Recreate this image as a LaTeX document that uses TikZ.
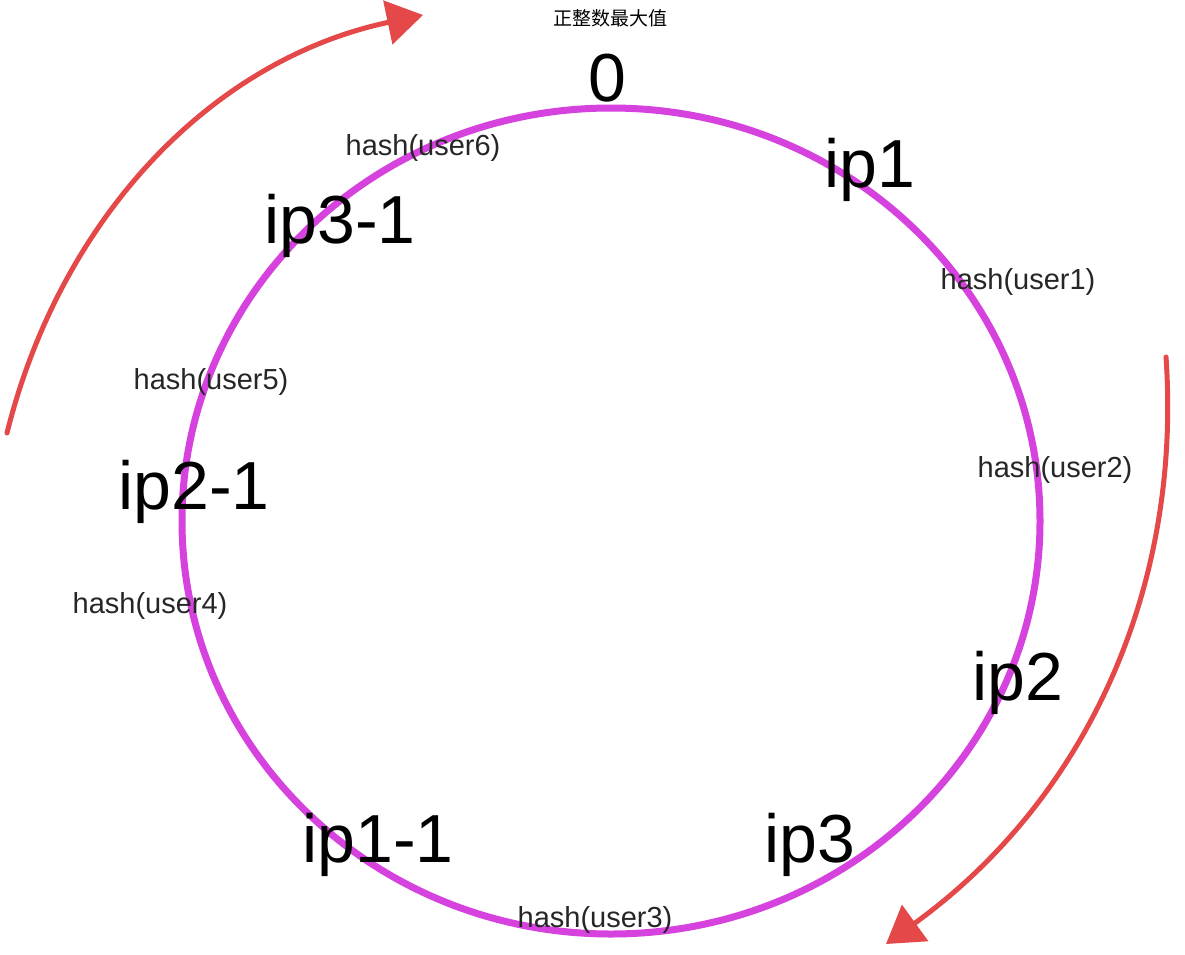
\documentclass[tikz,border=0pt]{standalone}
\usepackage{fontspec}
\setmainfont{Liberation Sans}
\newfontfamily\cjk{Noto Sans CJK SC}
\usetikzlibrary{arrows.meta}
\definecolor{ringcolor}{RGB}{214,66,222}
\definecolor{arrowred}{RGB}{228,72,72}
\begin{document}
\begin{tikzpicture}[x=1pt,y=-1pt,
    iplabel/.style={font=\fontsize{68}{68}\selectfont, inner sep=0pt},
    hashlabel/.style={font=\fontsize{29}{29}\selectfont, text=black!85, inner sep=0pt},
    redarrow/.style={draw=arrowred, line width=5pt, line cap=round,
        -{Triangle[length=36pt,width=44pt]}}]

    % Fix the page size to the reference
    \useasboundingbox (0,0) rectangle (1185,954);

    % Define the center of the ring
    \coordinate (O) at (611,521);

    % Draw the hash ring
    \draw[ringcolor, line width=7pt] (O) ellipse [x radius=429, y radius=413];

    % Top label and zero
    \node[font=\cjk\fontsize{19}{19}\selectfont, inner sep=0pt] (max) at (610,18) {正整数最大值};
    \node[iplabel] (zero) at (607,78) {0};

    % Server labels on the ring
    \node[iplabel] (ip1) at (870,170) {ip1};
    \node[iplabel] (ip31) at (340,226) {ip3-1};
    \node[iplabel] (ip21) at (194,492) {ip2-1};
    \node[iplabel] (ip2) at (1018,683) {ip2};
    \node[iplabel] (ip11) at (378,845) {ip1-1};
    \node[iplabel] (ip3) at (810,845) {ip3};

    % User hashes on the ring
    \node[hashlabel] (u6) at (423,148) {hash(user6)};
    \node[hashlabel] (u1) at (1018,282) {hash(user1)};
    \node[hashlabel] (u5) at (211,382) {hash(user5)};
    \node[hashlabel] (u2) at (1055,470) {hash(user2)};
    \node[hashlabel] (u4) at (150,606) {hash(user4)};
    \node[hashlabel] (u3) at (595,920) {hash(user3)};

    % Direction arrows (clockwise)
    \coordinate (L0) at (7,433);
    \coordinate (L1) at (423,15);
    \draw[redarrow] (L0) .. controls (60,220) and (210,60) .. (L1);

    \coordinate (R0) at (1166,357);
    \coordinate (R1) at (886,944);
    \draw[redarrow] (R0) .. controls (1182,590) and (1085,800) .. (R1);

\end{tikzpicture}
\end{document}
